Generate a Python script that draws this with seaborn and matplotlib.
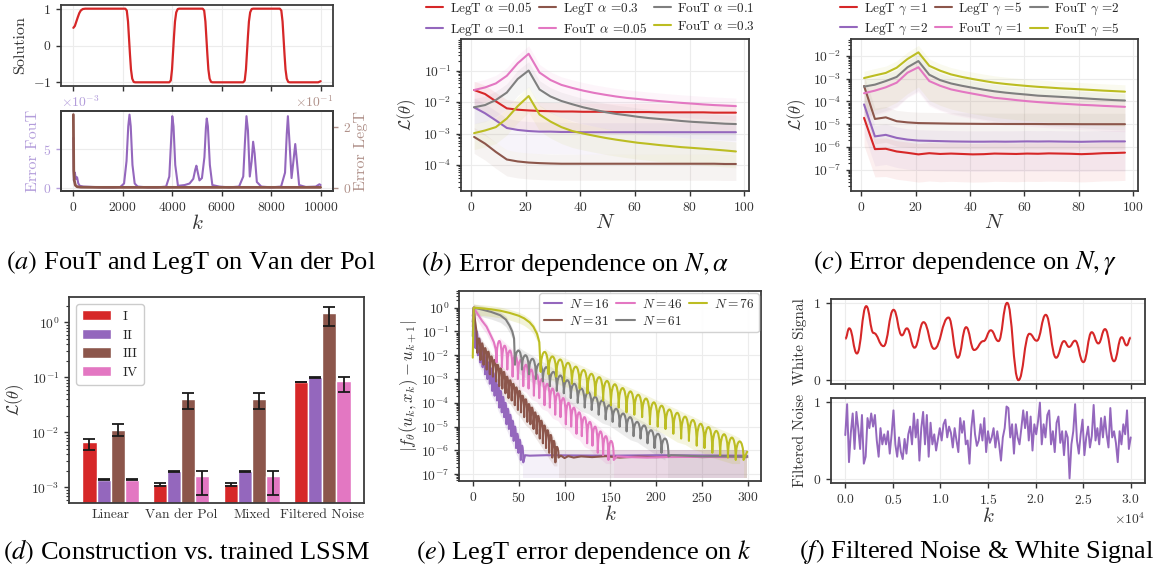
import numpy as np
import pandas as pd
import matplotlib
matplotlib.use("Agg")
import matplotlib.pyplot as plt
from matplotlib.path import Path
from matplotlib.patches import PathPatch
from matplotlib.lines import Line2D
from matplotlib.ticker import LogLocator, NullFormatter
import seaborn as sns

# ====================== DATA ======================
# (a) Van der Pol solution and errors
sol_k = [0, 60, 120, 180, 240, 300, 380, 480, 2100, 2160, 2210, 2250, 2290, 2330, 2380, 2440, 2500,
         3880, 3940, 3990, 4030, 4070, 4110, 4160, 4220, 4280, 5230, 5290, 5340, 5380, 5420, 5460, 5510,
         5570, 5630, 6870, 6930, 6980, 7020, 7060, 7100, 7150, 7210, 7270, 8350, 8410, 8460, 8500, 8540,
         8580, 8630, 8690, 8750, 9900, 10000]
sol_v = [0.48, 0.53, 0.65, 0.77, 0.88, 0.95, 0.99, 1.0, 1.0, 0.95, 0.65, 0.2, -0.25, -0.65, -0.9, -0.99, -1.0,
         -1.0, -0.95, -0.65, -0.2, 0.25, 0.65, 0.9, 0.99, 1.0, 1.0, 0.95, 0.65, 0.2, -0.25, -0.65, -0.9,
         -0.99, -1.0, -1.0, -0.95, -0.65, -0.2, 0.25, 0.65, 0.9, 0.99, 1.0, 1.0, 0.95, 0.65, 0.2, -0.25,
         -0.65, -0.9, -0.99, -1.0, -1.0, -0.97]
fout_k = [0, 20, 60, 100, 150, 200, 260, 400, 800, 1200, 1600, 1900, 2050, 2150, 2220, 2270, 2320, 2390,
          2480, 2600, 3000, 3400, 3750, 3880, 3950, 4000, 4050, 4120, 4230, 4500, 4700, 4850, 4930, 4975,
          5020, 5100, 5200, 5300, 5360, 5395, 5440, 5520, 5620, 5900, 6300, 6700, 6870, 6940, 7000, 7060,
          7135, 7210, 7270, 7330, 7420, 7600, 8000, 8400, 8560, 8630, 8676, 8730, 8824, 8900, 8973, 9040,
          9130, 9400, 9800, 9950, 10000]
fout_err = [6.5, 1.0, 2.0, 1.2, 1.4, 0.6, 0.3, 0.2, 0.15, 0.1, 0.1, 0.15, 0.6, 3.5, 8.0, 9.5, 8.0, 3.0,
            0.6, 0.2, 0.1, 0.1, 0.2, 1.5, 6.0, 9.3, 8.0, 3.0, 0.3, 0.4, 0.6, 1.2, 2.4, 2.9,
            2.2, 1.0, 1.3, 4.0, 7.8, 9.0, 8.0, 3.0, 0.4, 0.2, 0.1, 0.2, 1.5, 6.0, 9.3, 7.5,
            1.5, 3.5, 6.0, 4.5, 0.8, 0.2, 0.1, 0.2, 2.0, 7.0, 9.3, 6.5, 1.3, 3.5, 5.7, 3.5,
            0.4, 0.15, 0.2, 0.5, 0.4]          # x 1e-3
legt_k = [0, 15, 40, 80, 150, 300, 1000, 2000, 3000, 4000, 5000, 6000, 7000, 8000, 9000, 10000]
legt_err = [2.42, 0.6, 0.25, 0.1, 0.05, 0.035, 0.03, 0.03, 0.03, 0.03, 0.03, 0.03, 0.03, 0.03, 0.03, 0.03]  # x 1e-1

# (b) error vs N for several alpha
N_vals = [1, 5, 9, 13, 17, 21, 25, 29, 33, 37, 41, 45, 49, 53, 57, 61, 65, 69, 73, 77, 81, 85, 89, 93, 97]
b_labels = [r"LegT $\alpha$ =0.05", r"LegT $\alpha$ =0.1", r"LegT $\alpha$ =0.3",
            r"FouT $\alpha$ =0.05", r"FouT $\alpha$ =0.1", r"FouT $\alpha$ =0.3"]
b_legt_005 = [2.4e-2, 1.8e-2, 1.05e-2, 6.3e-3, 5.7e-3, 5.4e-3, 5.2e-3, 5.1e-3, 5.0e-3, 5.0e-3, 4.9e-3, 4.9e-3,
              4.9e-3, 4.8e-3, 4.8e-3, 4.8e-3, 4.8e-3, 4.7e-3, 4.7e-3, 4.7e-3, 4.7e-3, 4.7e-3, 4.6e-3, 4.6e-3, 4.6e-3]
b_legt_01 = [6.8e-3, 4.4e-3, 2.6e-3, 1.5e-3, 1.3e-3, 1.2e-3, 1.15e-3, 1.15e-3, 1.12e-3, 1.12e-3, 1.1e-3, 1.1e-3,
             1.1e-3, 1.1e-3, 1.1e-3, 1.1e-3, 1.1e-3, 1.1e-3, 1.1e-3, 1.1e-3, 1.1e-3, 1.1e-3, 1.1e-3, 1.1e-3, 1.1e-3]
b_legt_03 = [7.8e-4, 4.8e-4, 2.6e-4, 1.5e-4, 1.3e-4, 1.2e-4, 1.15e-4, 1.12e-4, 1.1e-4, 1.1e-4, 1.1e-4, 1.1e-4,
             1.1e-4, 1.1e-4, 1.1e-4, 1.1e-4, 1.1e-4, 1.1e-4, 1.1e-4, 1.1e-4, 1.1e-4, 1.1e-4, 1.1e-4, 1.08e-4, 1.08e-4]
b_fout_005 = [2.4e-2, 2.9e-2, 3.9e-2, 6.8e-2, 1.7e-1, 3.4e-1, 8.6e-2, 5.0e-2, 3.5e-2, 2.8e-2, 2.3e-2, 1.95e-2,
              1.7e-2, 1.5e-2, 1.35e-2, 1.25e-2, 1.15e-2, 1.07e-2, 1.0e-2, 9.4e-3, 8.9e-3, 8.4e-3, 8.0e-3, 7.7e-3, 7.4e-3]
b_fout_01 = [6.8e-3, 8.0e-3, 1.16e-2, 2.0e-2, 5.4e-2, 1.0e-1, 2.5e-2, 1.5e-2, 1.08e-2, 8.5e-3, 6.8e-3, 5.7e-3,
             4.8e-3, 4.2e-3, 3.8e-3, 3.4e-3, 3.1e-3, 2.9e-3, 2.7e-3, 2.5e-3, 2.35e-3, 2.25e-3, 2.15e-3, 2.05e-3, 2.0e-3]
b_fout_03 = [1.03e-3, 1.25e-3, 1.6e-3, 3.0e-3, 7.4e-3, 1.55e-2, 4.0e-3, 2.4e-3, 1.6e-3, 1.2e-3, 1.0e-3, 8.5e-4,
             7.3e-4, 6.4e-4, 5.7e-4, 5.1e-4, 4.7e-4, 4.3e-4, 4.0e-4, 3.7e-4, 3.5e-4, 3.3e-4, 3.1e-4, 2.9e-4, 2.7e-4]
b_band_lo = [0.25, 0.2, 0.3, 0.35, 0.3, 0.3]
b_band_hi = [1.9, 2.0, 2.0, 1.8, 1.9, 2.0]

# (c) error vs N for several gamma
c_labels = [r"LegT $\gamma$ =1", r"LegT $\gamma$ =2", r"LegT $\gamma$ =5",
            r"FouT $\gamma$ =1", r"FouT $\gamma$ =2", r"FouT $\gamma$ =5"]
c_legt_1 = [1.9e-5, 8.0e-7, 8.3e-7, 6.3e-7, 5.5e-7, 4.7e-7, 5.3e-7, 4.9e-7, 5.1e-7, 4.9e-7, 4.7e-7, 4.8e-7,
            5.1e-7, 5.0e-7, 4.9e-7, 5.1e-7, 5.0e-7, 5.2e-7, 5.1e-7, 5.0e-7, 4.8e-7, 5.0e-7, 5.3e-7, 5.4e-7, 5.6e-7]
c_legt_2 = [7.4e-5, 2.9e-6, 3.4e-6, 2.5e-6, 2.1e-6, 1.9e-6, 1.85e-6, 1.8e-6, 1.75e-6, 1.72e-6, 1.7e-6, 1.7e-6,
            1.72e-6, 1.7e-6, 1.72e-6, 1.75e-6, 1.73e-6, 1.75e-6, 1.72e-6, 1.7e-6, 1.68e-6, 1.72e-6, 1.75e-6, 1.75e-6, 1.75e-6]
c_legt_5 = [4.8e-4, 1.7e-5, 2.0e-5, 1.35e-5, 1.2e-5, 1.12e-5, 1.1e-5, 1.08e-5, 1.06e-5, 1.05e-5, 1.04e-5, 1.03e-5,
            1.03e-5, 1.02e-5, 1.02e-5, 1.02e-5, 1.02e-5, 1.01e-5, 1.01e-5, 1.01e-5, 1.0e-5, 1.0e-5, 1.0e-5, 1.0e-5, 1.0e-5]
c_fout_1 = [2.3e-4, 3.0e-4, 4.2e-4, 6.7e-4, 1.85e-3, 3.2e-3, 7.9e-4, 4.9e-4, 3.4e-4, 2.7e-4, 2.2e-4, 1.8e-4,
            1.45e-4, 1.3e-4, 1.15e-4, 1.03e-4, 9.4e-5, 8.7e-5, 8.1e-5, 7.6e-5, 7.1e-5, 6.8e-5, 6.4e-5, 6.1e-5, 5.8e-5]
c_fout_2 = [4.5e-4, 5.5e-4, 7.9e-4, 1.2e-3, 3.2e-3, 6.0e-3, 1.5e-3, 8.7e-4, 6.2e-4, 4.9e-4, 4.0e-4, 3.3e-4,
            2.8e-4, 2.45e-4, 2.2e-4, 2.0e-4, 1.8e-4, 1.7e-4, 1.6e-4, 1.5e-4, 1.4e-4, 1.3e-4, 1.22e-4, 1.15e-4, 1.1e-4]
c_fout_5 = [1.07e-3, 1.4e-3, 1.8e-3, 3.05e-3, 7.4e-3, 1.45e-2, 3.7e-3, 2.26e-3, 1.55e-3, 1.2e-3, 9.7e-4, 8.0e-4,
            6.7e-4, 5.9e-4, 5.3e-4, 4.8e-4, 4.4e-4, 4.1e-4, 3.8e-4, 3.6e-4, 3.4e-4, 3.2e-4, 3.0e-4, 2.85e-4, 2.7e-4]
c_band_lo = [0.06, 0.05, 0.08, 0.08, 0.05, 0.03]
c_band_hi = [3.0, 3.0, 3.0, 2.0, 2.0, 2.0]

# (d) construction vs trained
d_tasks = ["Linear", "Van der Pol", "Mixed", "Filtered Noise"]
d_models = ["I", "II", "III", "IV"]
d_I = [6.6e-3, 1.15e-3, 1.15e-3, 8.2e-2]
d_II = [1.38e-3, 1.95e-3, 1.95e-3, 1.0e-1]
d_III = [1.12e-2, 4.0e-2, 4.0e-2, 1.5]
d_IV = [1.38e-3, 1.6e-3, 1.6e-3, 8.6e-2]
d_I_lo, d_I_hi = [4.8e-3, 1.08e-3, 1.08e-3, 8.1e-2], [7.6e-3, 1.22e-3, 1.22e-3, 8.3e-2]
d_II_lo, d_II_hi = [1.35e-3, 1.93e-3, 1.93e-3, 9.9e-2], [1.42e-3, 1.98e-3, 1.98e-3, 1.01e-1]
d_III_lo, d_III_hi = [8.6e-3, 2.7e-2, 2.7e-2, 0.85], [1.4e-2, 5.3e-2, 5.3e-2, 1.9]
d_IV_lo, d_IV_hi = [1.35e-3, 7.3e-4, 7.3e-4, 5.5e-2], [1.42e-3, 2.0e-3, 2.0e-3, 1.0e-1]

# (e) LegT error vs k (log10 values)
e_labels = [r"$N=16$", r"$N=31$", r"$N=46$", r"$N=61$", r"$N=76$"]
e16_head_k, e16_head_v = [0, 1, 2], [-0.35, -0.05, -0.9]
e16_dip0, e16_period = 3, 2.6
e16_peaks = [-1.0, -1.3, -1.55, -1.8, -2.1, -2.3, -2.55, -2.75, -3.0, -3.25, -3.5, -3.75, -4.0, -4.25,
             -4.5, -4.75, -5.0, -5.3, -5.55, -5.8]
e16_dips = [-1.7, -2.0, -2.3, -2.5, -2.8, -3.0, -3.2, -3.5, -3.7, -3.9, -4.2, -4.4, -4.6, -4.9, -5.1,
            -5.4, -5.6, -5.9, -6.1, -6.4, -6.5]
e16_floor_k = [57, 62, 80, 110, 150, 200, 250, 299]
e16_floor_v = [-6.2, -6.22, -6.2, -6.21, -6.22, -6.2, -6.21, -6.22]

e31_head_k, e31_head_v = [0, 1, 2.5, 4], [-0.6, 0.0, -0.55, -1.0]
e31_dip0, e31_period = 5, 3.4
e31_peaks = [-1.3, -1.5, -1.7, -1.85, -2.05, -2.2, -2.4, -2.55, -2.7, -2.9, -3.05, -3.2, -3.35, -3.5,
             -3.7, -3.85, -4.05, -4.2, -4.4, -4.55, -4.75, -4.95, -5.15, -5.35, -5.6, -5.85]
e31_dips = [-1.9, -2.2, -2.4, -2.6, -2.8, -2.9, -3.1, -3.3, -3.4, -3.6, -3.8, -3.9, -4.1, -4.3, -4.4,
            -4.6, -4.8, -4.9, -5.1, -5.3, -5.5, -5.7, -5.9, -6.1, -6.3, -6.5, -6.3]
e31_floor_k = [96, 100, 104, 110, 118, 130, 145, 160, 180, 200, 225, 250, 275, 299]
e31_floor_v = [-6.22, -6.32, -6.24, -6.3, -6.25, -6.28, -6.24, -6.3, -6.26, -6.28, -6.25, -6.28, -6.26, -6.28]

e46_head_k, e46_head_v = [0, 1, 5, 10, 15, 20, 23, 25], [-0.8, 0.0, -0.25, -0.55, -0.8, -1.2, -1.45, -1.75]
e46_dip0, e46_period = 26, 5.8
e46_peaks = [-1.4, -1.6, -1.8, -2.0, -2.2, -2.4, -2.6, -2.8, -3.0, -3.2, -3.4, -3.6, -3.8, -4.0, -4.2,
             -4.4, -4.6, -4.8, -5.0, -5.2, -5.4, -5.6]
e46_dips = [-2.3, -2.5, -2.6, -2.9, -3.0, -3.3, -3.4, -3.7, -3.8, -4.1, -4.2, -4.5, -4.6, -4.9, -5.0,
            -5.3, -5.4, -5.7, -5.8, -6.1, -6.2, -6.4, -6.4]
e46_floor_k = [157, 170, 190, 210, 240, 270, 299]
e46_floor_v = [-6.25, -6.28, -6.3, -6.28, -6.27, -6.28, -6.28]

e61_head_k = [0, 1, 10, 20, 30, 36, 40, 43, 45]
e61_head_v = [-1.2, 0.0, -0.08, -0.18, -0.32, -0.5, -0.75, -1.0, -1.3]
e61_dip0, e61_period = 46, 7.6
e61_peaks = [-1.8, -2.0, -2.15, -2.35, -2.5, -2.7, -2.85, -3.05, -3.2, -3.4, -3.55, -3.75, -3.9, -4.1,
             -4.25, -4.45, -4.6, -4.8, -4.95, -5.15, -5.3, -5.5]
e61_dips = [-2.4, -2.6, -2.8, -3.0, -3.1, -3.3, -3.5, -3.6, -3.8, -4.0, -4.2, -4.3, -4.5, -4.7, -4.8,
            -5.0, -5.2, -5.4, -5.5, -5.7, -5.9, -6.1, -6.25]
e61_floor_k = [216, 230, 250, 270, 299]
e61_floor_v = [-6.2, -6.22, -6.25, -6.25, -6.27]

e76_head_k = [0, 1, 10, 20, 30, 40, 50, 56, 62, 66, 70, 72.5]
e76_head_v = [-2.1, 0.0, -0.03, -0.07, -0.13, -0.22, -0.34, -0.45, -0.62, -0.8, -1.1, -1.45]
e76_dip0, e76_period = 74, 8.5
e76_peaks = [-1.86, -2.05, -2.18, -2.32, -2.48, -2.62, -2.78, -2.92, -3.08, -3.22, -3.38, -3.52, -3.66,
             -3.82, -3.98, -4.12, -4.28, -4.42, -4.58, -4.72, -4.88, -5.02, -5.18, -5.32, -5.46, -5.62]
e76_dips = [-2.7, -2.8, -2.9, -3.1, -3.2, -3.4, -3.6, -3.7, -3.9, -4.1, -4.2, -4.4, -4.5, -4.6, -4.9,
            -5.0, -5.1, -5.3, -5.5, -5.6, -5.8, -5.9, -6.1, -6.2, -6.3, -6.4, -6.4]
e76_floor_k = [299]
e76_floor_v = [-6.05]

# (f) white signal (extrema) and filtered noise
ws_k = [0, 420, 1225, 2205, 2975, 4025, 5075, 5950, 6475, 7280, 8225, 9345, 10850, 11830, 12705, 13545,
        14525, 15295, 16100, 17010, 18200, 19355, 20125, 21070, 22155, 22995, 23520, 24150, 25025, 25900,
        26600, 27300, 28245, 29050, 29575, 30000]
ws_v = [0.535, 0.67, 0.345, 0.957, 0.61, 0.44, 0.91, 0.58, 0.67, 0.42, 0.75, 0.405, 0.81, 0.29, 0.685, 0.39,
        0.505, 0.645, 0.505, 1.0, 0.0, 0.60, 0.51, 0.845, 0.29, 0.505, 0.43, 0.51, 0.233, 0.62,
        0.475, 0.66, 0.245, 0.555, 0.45, 0.55]
noise_v = [0.57, 0.97, 0.22, 0.6, 0.85, 0.39, 0.87, 0.66, 0.39, 0.83,
           0.2, 0.29, 0.79, 0.66, 0.85, 0.68, 0.83, 0.5, 0.29, 0.66,
           0.45, 0.58, 0.45, 0.62, 0.33, 0.58, 0.89, 0.45, 0.29, 0.54,
           0.35, 0.26, 0.52, 0.33, 0.58, 0.68, 0.45, 0.85, 0.54, 0.77,
           0.24, 0.66, 0.87, 0.45, 0.83, 0.29, 0.73, 0.45, 0.58, 0.37,
           0.52, 0.66, 0.5, 0.71, 0.77, 0.54, 0.68, 0.6, 0.41, 0.66,
           0.5, 0.35, 0.79, 0.6, 0.75, 0.45, 0.5, 0.2, 0.66, 0.89,
           0.58, 0.43, 0.5, 0.71, 0.5, 0.79, 0.35, 0.62, 0.47, 0.54,
           0.66, 0.41, 0.62, 0.45, 0.24, 0.54, 0.66, 0.94, 0.92, 0.54,
           0.71, 0.33, 0.71, 0.54, 0.45, 0.66, 0.89, 0.66, 0.87, 0.5,
           0.81, 0.37, 0.71, 0.58, 0.75, 0.99, 0.45, 0.71, 0.54, 0.83,
           0.89, 0.45, 0.62, 0.35, 0.73, 0.81, 0.47, 0.62, 0.31, 0.62,
           0.54, 0.01, 0.45, 0.62, 0.97, 0.5, 0.33, 0.58, 0.77, 0.31,
           0.54, 0.68, 0.41, 0.56, 0.96, 0.5, 0.66, 0.45, 0.79, 0.54,
           0.81, 0.58, 0.41, 0.92, 0.54, 0.62, 0.47, 0.22, 0.62, 0.45,
           0.71, 0.58, 0.89, 0.39, 0.54]
noise_k_max = 30000

# ====================== STYLE ======================
RED, PUR, BRN, PNK, GRY, OLV = "#d62728", "#9467bd", "#8c564b", "#e377c2", "#7f7f7f", "#bcbd22"
LPUR, LBRN = "#b39ddb", "#b0918a"
six_colors = [RED, PUR, BRN, PNK, GRY, OLV]

sns.set_theme(style="whitegrid")
plt.rcParams.update({
    "font.family": ["cmr10"],
    "mathtext.fontset": "cm",
    "axes.formatter.use_mathtext": True,
    "axes.edgecolor": "#3c3c3c",
    "axes.linewidth": 1.3,
    "axes.labelcolor": "#333333",
    "axes.facecolor": "white",
    "grid.color": "#ececec",
    "grid.linewidth": 0.8,
    "xtick.bottom": True, "ytick.left": True,
    "xtick.major.size": 3.5, "ytick.major.size": 3.5,
    "xtick.minor.size": 2.0, "ytick.minor.size": 2.0,
    "xtick.major.width": 1.0, "ytick.major.width": 1.0,
    "xtick.minor.width": 0.8, "ytick.minor.width": 0.8,
    "xtick.color": "#333333", "ytick.color": "#333333",
    "xtick.labelsize": 9.8, "ytick.labelsize": 9.8,
    "axes.labelsize": 11,
    "legend.fontsize": 9,
})

W, H = 1158, 576
fig = plt.figure(figsize=(W / 100, H / 100), dpi=100)


def box(l, t, r, b):
    return [l / W, 1 - b / H, (r - l) / W, (b - t) / H]


def log_minor(ax):
    ax.yaxis.set_minor_locator(LogLocator(base=10, subs=np.arange(2, 10), numticks=200))
    ax.yaxis.set_minor_formatter(NullFormatter())


# ---------------- (a) ----------------
axA1 = fig.add_axes(box(61, 5, 333, 86))
sns.lineplot(x=sol_k, y=sol_v, ax=axA1, color=RED, lw=1.6, estimator=None, sort=False)
axA1.set_yticks([-1, 0, 1])
axA1.set_xticks(range(0, 10001, 2000))
axA1.set_xticklabels([])
axA1.set_xlim(-500, 10500)
axA1.set_ylabel("Solution", fontsize=11.5)

axA2 = fig.add_axes(box(61, 111, 333, 191))
sns.lineplot(x=fout_k, y=np.array(fout_err) * 1e-3, ax=axA2, color=PUR, lw=1.5, estimator=None, sort=False)
axA2.set_xlim(-500, 10500)
axA2.set_xticks(range(0, 10001, 2000))
axA2.set_yticks([0, 5e-3])
axA2.ticklabel_format(axis="y", style="sci", scilimits=(0, 0))
axA2.tick_params(axis="y", colors=LPUR)
axA2.yaxis.get_offset_text().set_color(LPUR)
axA2.yaxis.get_offset_text().set_fontsize(9.8)
axA2.set_ylabel("Error FouT", color=LPUR, fontsize=11.5, labelpad=2)
axA2.set_xlabel(r"$k$", fontsize=15, labelpad=0)
axT = axA2.twinx()
sns.lineplot(x=legt_k, y=np.array(legt_err) * 1e-1, ax=axT, color=BRN, lw=2.0, estimator=None, sort=False)
axT.set_yticks([0, 2e-1])
axT.ticklabel_format(axis="y", style="sci", scilimits=(0, 0))
axT.tick_params(axis="y", colors=LBRN, right=True, length=3.5)
axT.yaxis.get_offset_text().set_color(LBRN)
axT.yaxis.get_offset_text().set_fontsize(9.8)
axT.set_ylabel("Error LegT", color=LBRN, fontsize=11.5, labelpad=2)
axT.grid(False)

# ---------------- (b) & (c) ----------------
def n_panel(rect, series, labels, lo, hi, yticks, ylim):
    ax = fig.add_axes(rect)
    for vals, col, l, h in zip(series, six_colors, lo, hi):
        v = np.array(vals)
        ax.fill_between(N_vals, v * l, v * h, color=col, alpha=0.07, lw=0)
    for vals, col, lab in zip(series, six_colors, labels):
        sns.lineplot(x=N_vals, y=vals, ax=ax, color=col, lw=1.5, label=lab, estimator=None)
    ax.set_yscale("log")
    ax.set_yticks(yticks)
    log_minor(ax)
    ax.set_ylim(*ylim)
    ax.set_xticks([0, 20, 40, 60, 80, 100])
    ax.set_xlabel(r"$N$", fontsize=15, labelpad=0)
    ax.set_ylabel(r"$\mathcal{L}(\theta)$", fontsize=12)
    ax.legend(loc="lower center", bbox_to_anchor=(0.45, 1.0), ncol=3, frameon=False, fontsize=9.5,
              handlelength=1.3, columnspacing=0.5, handletextpad=0.5, labelspacing=0.35,
              borderaxespad=0.0, borderpad=0.1)
    return ax

axB = n_panel(box(461, 39, 749, 191), [b_legt_005, b_legt_01, b_legt_03, b_fout_005, b_fout_01, b_fout_03],
              b_labels, b_band_lo, b_band_hi, [1e-4, 1e-3, 1e-2, 1e-1], (1.5e-5, 1.0))
axC = n_panel(box(851, 39, 1138, 191), [c_legt_1, c_legt_2, c_legt_5, c_fout_1, c_fout_2, c_fout_5],
              c_labels, c_band_lo, c_band_hi, [1e-7, 1e-6, 1e-5, 1e-4, 1e-3, 1e-2], (1.15e-8, 5.6e-2))

# ---------------- (d) ----------------
axD = fig.add_axes(box(69, 297, 364, 503))
d_vals = [d_I, d_II, d_III, d_IV]
d_lo = [d_I_lo, d_II_lo, d_III_lo, d_IV_lo]
d_hi = [d_I_hi, d_II_hi, d_III_hi, d_IV_hi]
df = pd.DataFrame({"task": [t for m in d_models for t in d_tasks],
                   "model": [m for m in d_models for t in d_tasks],
                   "loss": [v for vals in d_vals for v in vals]})
sns.barplot(data=df, x="task", y="loss", hue="model", order=d_tasks, hue_order=d_models,
            palette=[RED, PUR, BRN, PNK], saturation=1, errorbar=None, width=0.8, gap=0,
            log_scale=(False, True), ax=axD)
for j, (vals, lo, hi) in enumerate(zip(d_vals, d_lo, d_hi)):
    xs = np.arange(len(d_tasks)) - 0.3 + 0.2 * j
    v = np.array(vals)
    axD.errorbar(xs, v, yerr=[v - np.array(lo), np.array(hi) - v], fmt="none", ecolor="#1a1a1a",
                 elinewidth=1.3, capsize=4.5, capthick=1.3, zorder=5)
axD.set_yscale("log")
axD.set_yticks([1e-3, 1e-2, 1e-1, 1e0])
log_minor(axD)
axD.set_ylim(5.2e-4, 2.9)
axD.set_xlim(-0.59, 3.59)
axD.grid(False)
axD.tick_params(axis="x", length=0, pad=4)
axD.set_xlabel("")
axD.set_ylabel(r"$\mathcal{L}(\theta)$", fontsize=12)
h, l = axD.get_legend_handles_labels()
axD.legend(h, l, loc="upper left", fontsize=9.8, handlelength=2.1, handleheight=0.8, labelspacing=0.42,
           handletextpad=0.9, borderpad=0.45, frameon=True, framealpha=1, edgecolor="#cccccc",
           borderaxespad=0.5)

# ---------------- (e) ----------------
axE = fig.add_axes(box(459, 291, 761, 481))
e_lines = [
    (e16_head_k, e16_head_v, e16_dip0, e16_period, e16_peaks, e16_dips, e16_floor_k, e16_floor_v, PUR),
    (e31_head_k, e31_head_v, e31_dip0, e31_period, e31_peaks, e31_dips, e31_floor_k, e31_floor_v, BRN),
    (e46_head_k, e46_head_v, e46_dip0, e46_period, e46_peaks, e46_dips, e46_floor_k, e46_floor_v, PNK),
    (e61_head_k, e61_head_v, e61_dip0, e61_period, e61_peaks, e61_dips, e61_floor_k, e61_floor_v, GRY),
    (e76_head_k, e76_head_v, e76_dip0, e76_period, e76_peaks, e76_dips, e76_floor_k, e76_floor_v, OLV),
]
for hk, hv, d0, per, pk, dp, fk, fv, col in e_lines:
    hv_a, pk_a, dp_a = np.array(hv), np.array(pk), np.array(dp)
    # faint bands
    axE.fill_between(hk, 10 ** (hv_a + 0.15), 10 ** (hv_a - 0.3), color=col, alpha=0.18, lw=0)
    xm = d0 + per * (np.arange(len(pk)) + 0.5)
    axE.fill_between(xm, 10 ** (pk_a + 0.15), 10 ** (np.minimum(dp_a[:-1], dp_a[1:]) - 0.15),
                     color=col, alpha=0.14, lw=0)
    axE.fill_between([d0 + per * len(pk), 299], 10 ** -7.15, 10 ** -6.0, color=col, alpha=0.09, lw=0)
    # the curve
    verts = [(k, 10 ** v) for k, v in zip(hk, hv)]
    codes = [Path.MOVETO] + [Path.LINETO] * (len(hk) - 1)
    verts.append((d0, 10 ** dp[0]))
    codes.append(Path.LINETO)
    for i, p in enumerate(pk):
        x0 = d0 + per * i
        x1 = x0 + per
        xc = 0.5 * (x0 + x1)
        y0, y1 = dp[i], dp[i + 1]
        verts += [(x0, 10 ** (y0 + 0.7 * (p - y0))), (x0 + 0.55 * (xc - x0), 10 ** p), (xc, 10 ** p),
                  (xc + 0.45 * (x1 - xc), 10 ** p), (x1, 10 ** (y1 + 0.7 * (p - y1))), (x1, 10 ** y1)]
        codes += [Path.CURVE4] * 6
    for k, v in zip(fk, fv):
        verts.append((k, 10 ** v))
        codes.append(Path.LINETO)
    axE.add_patch(PathPatch(Path(verts, codes), fill=False, edgecolor=col, lw=1.5, zorder=3,
                            joinstyle="round", capstyle="round"))
axE.set_yscale("log")
axE.set_yticks([10.0 ** p for p in range(-7, 1)])
log_minor(axE)
axE.set_ylim(5.2e-8, 5.0)
axE.set_xlim(-15, 314)
axE.set_xticks(range(0, 301, 50))
axE.set_xlabel(r"$k$", fontsize=15, labelpad=0)
axE.set_ylabel(r"$|f_\theta(u_k, x_k) - u_{k+1}|$", fontsize=12, labelpad=1)
e_handles = [Line2D([], [], color=c, lw=1.5) for c in [PUR, BRN, PNK, GRY, OLV]]
axE.legend(e_handles, e_labels, loc="upper right", ncol=3, fontsize=9.6, handlelength=1.4,
           columnspacing=0.5, handletextpad=0.5, labelspacing=0.3, borderaxespad=0.15, borderpad=0.35,
           frameon=True, framealpha=0.95, edgecolor="#d0d0d0")

# ---------------- (f) ----------------
axF1 = fig.add_axes(box(831, 299, 1145, 384))
verts = [(ws_k[0], ws_v[0])]
codes = [Path.MOVETO]
for i in range(1, len(ws_k)):
    x0, y0, x1, y1 = ws_k[i - 1], ws_v[i - 1], ws_k[i], ws_v[i]
    dx = x1 - x0
    verts += [(x0 + 0.45 * dx, y0), (x1 - 0.45 * dx, y1), (x1, y1)]
    codes += [Path.CURVE4] * 3
axF1.add_patch(PathPatch(Path(verts, codes), fill=False, edgecolor=RED, lw=1.5, zorder=3))
axF1.set_xlim(-1500, 31500)
axF1.set_ylim(-0.05, 1.05)
axF1.set_yticks([0, 1])
axF1.set_xticks(range(0, 30001, 5000))
axF1.set_xticklabels([])
axF1.set_ylabel("White Signal", fontsize=11)

axF2 = fig.add_axes(box(831, 398, 1145, 483))
noise_k = np.linspace(0, noise_k_max, len(noise_v))
sns.lineplot(x=noise_k, y=noise_v, ax=axF2, color=PUR, lw=1.4, estimator=None, sort=False)
axF2.set_xlim(-1500, 31500)
axF2.set_ylim(-0.05, 1.05)
axF2.set_yticks([0, 1])
axF2.set_xticks(range(0, 30001, 5000))
axF2.ticklabel_format(axis="x", style="sci", scilimits=(0, 0))
axF2.xaxis.get_offset_text().set_fontsize(9.8)
axF2.set_xlabel(r"$k$", fontsize=15, labelpad=0)
axF2.set_ylabel("Filtered Noise", fontsize=11)

# ---------------- captions ----------------
caps = [(r"$(a)$ FouT and LegT on Van der Pol", 191, 263),
        (r"$(b)$ Error dependence on $N, \alpha$", 575, 263),
        (r"$(c)$ Error dependence on $N, \gamma$", 965, 263),
        (r"$(d)$ Construction vs. trained LSSM", 186, 552),
        (r"$(e)$ LegT error dependence on $k$", 584, 552),
        (r"$(f)$ Filtered Noise & White Signal", 977, 552)]
for s, x, y in caps:
    fig.text(x / W, 1 - y / H, s, ha="center", va="center", fontsize=19, family="Liberation Serif",
             math_fontfamily="stix", color="black")

fig.savefig("out.png", dpi=100)
